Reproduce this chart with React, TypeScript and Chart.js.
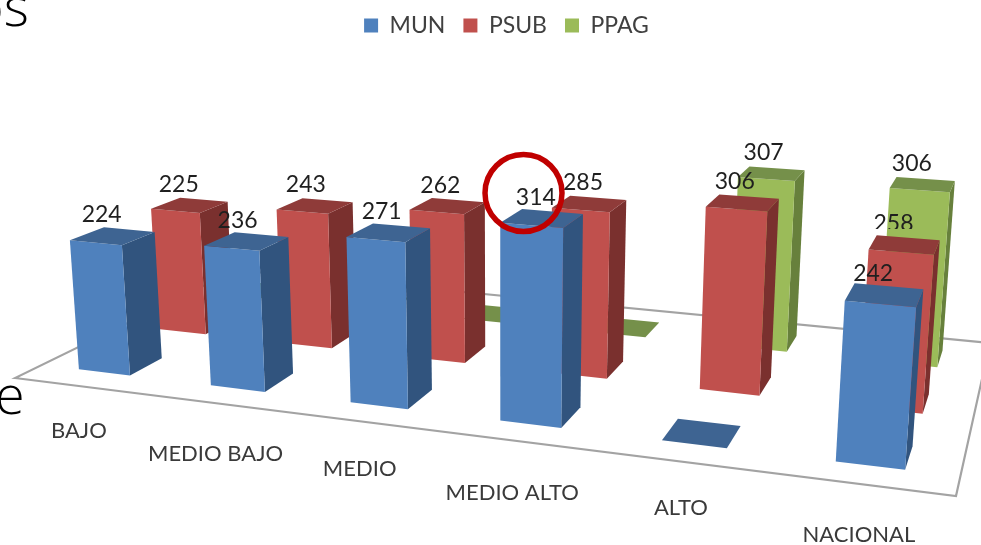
import React, { useEffect, useRef } from "react";
import { Chart, BarController, BarElement, CategoryScale, LinearScale, Legend } from "chart.js";

const categories = ["BAJO", "MEDIO BAJO", "MEDIO", "MEDIO ALTO", "ALTO", "NACIONAL"];
const mun = [224, 236, 271, 314, 0, 242];
const psub = [225, 243, 262, 285, 306, 258];
const ppag = [0, 0, 0, 0, 307, 306];

const FRONT = ["#4F81BD", "#C0504D", "#9BBB59"];
const TOP = ["#3E6492", "#8F3B39", "#75904A"];
const SIDE = ["#31547E", "#7A302E", "#67803C"];
const FONT = "Lato, Carlito, 'Open Sans', sans-serif";

// Floor quad of the 3D view (front-left, front-right, back-right, back-left) and vertical vanishing point
const A = [15, 378], B = [956, 496], C = [990, 343], D = [236, 270];
const VP = [502, 6412];
const RISE = 0.0332;
const DEPTH_FILL = 0.4;
const WIDTH_FILL = 0.39;
const LABEL_SHIFT_U = -0.0035;
// Small per-category corrections of the projected bars (floor units) and the category labels (px)
const BAR_NUDGE_U = [-0.003, -0.0045, -0.006, -0.006, -0.0035, 0.0003];
const LABEL_NUDGE = [[1, -2], [0, 3], [-2, -1], [-5, 3], [-2, -3], [-1, 1]];
// The one data label cut by the bar in front of it
const LABEL_CLIP_Y: Record<string, number> = { "1:258": 229 };

const den = (B[0] - C[0]) * (D[1] - C[1]) - (D[0] - C[0]) * (B[1] - C[1]);
const sx = A[0] - B[0] + C[0] - D[0];
const sy = A[1] - B[1] + C[1] - D[1];
const g = (sx * (D[1] - C[1]) - (D[0] - C[0]) * sy) / den;
const h = ((B[0] - C[0]) * sy - sx * (B[1] - C[1])) / den;
const a = B[0] - A[0] + g * B[0], b = D[0] - A[0] + h * D[0];
const d = B[1] - A[1] + g * B[1], e = D[1] - A[1] + h * D[1];

function project(u: number, v: number, t: number): [number, number] {
  const w = g * u + h * v + 1 - t;
  return [(a * u + b * v + A[0] - t * VP[0]) / w, (d * u + e * v + A[1] - t * VP[1]) / w];
}

function poly(ctx: CanvasRenderingContext2D, pts: [number, number][], fill: string) {
  ctx.beginPath();
  pts.forEach((p, i) => (i ? ctx.lineTo(p[0], p[1]) : ctx.moveTo(p[0], p[1])));
  ctx.closePath();
  ctx.fillStyle = fill;
  ctx.fill();
}

class Bar3D extends BarElement {
  static id = "bar3d";
  draw(ctx: CanvasRenderingContext2D) {
    const self = this as any;
    const area = self.area;
    if (!area) return;
    const span = area.right - area.left;
    const raw = (self.x - area.left) / span;
    const u = raw + BAR_NUDGE_U[self.category];
    const du = self.width / span / 2;
    const series = self.series as number;
    const v = (series + 0.5) / 3;
    const dv = DEPTH_FILL / 3 / 2;
    const t = (RISE * (self.base - self.y)) / (area.bottom - area.top);
    const u0 = u - du, u1 = u + du, v0 = v - dv, v1 = v + dv;
    ctx.save();
    if (self.value) {
      const c = project(raw + LABEL_SHIFT_U, v, t);
      ctx.save();
      const clipY = LABEL_CLIP_Y[`${series}:${self.value}`];
      if (clipY) {
        ctx.beginPath();
        ctx.rect(0, 0, 981, clipY);
        ctx.clip();
      }
      ctx.font = `23px ${FONT}`;
      ctx.fillStyle = "#1F1F1F";
      ctx.textAlign = "center";
      ctx.textBaseline = "middle";
      ctx.fillText(String(self.value), c[0] - 11 + 4 * raw, c[1] - 21);
      ctx.restore();
      poly(ctx, [project(u1, v0, 0), project(u1, v1, 0), project(u1, v1, t), project(u1, v0, t)], SIDE[series]);
      poly(ctx, [project(u0, v0, 0), project(u1, v0, 0), project(u1, v0, t), project(u0, v0, t)], FRONT[series]);
    }
    poly(ctx, [project(u0, v0, t), project(u1, v0, t), project(u1, v1, t), project(u0, v1, t)], TOP[series]);
    ctx.restore();
  }
}

class Bar3DController extends BarController {
  static id = "bar3d";
  static defaults = { ...(BarController as any).defaults, dataElementType: "bar3d" };
  static overrides = (BarController as any).overrides;
  updateElements(bars: any[], start: number, count: number, mode: any) {
    (BarController.prototype as any).updateElements.call(this, bars, start, count, mode);
    const data = (this as any).getDataset().data;
    for (let i = start; i < start + count; i++) {
      bars[i].area = (this as any).chart.chartArea;
      bars[i].series = (this as any).index;
      bars[i].category = i;
      bars[i].value = data[i];
    }
  }
}

Chart.register(Bar3DController as any, Bar3D as any, CategoryScale, LinearScale, Legend);

const floorPlugin = {
  id: "floor",
  beforeDatasetsDraw(chart: any) {
    const ctx = chart.ctx;
    ctx.save();
    ctx.beginPath();
    [project(0, 0, 0), project(1, 0, 0), project(1, 1, 0), project(0, 1, 0)].forEach((p, i) =>
      i ? ctx.lineTo(p[0], p[1]) : ctx.moveTo(p[0], p[1])
    );
    ctx.closePath();
    ctx.strokeStyle = "#A3A3A3";
    ctx.lineWidth = 2.2;
    ctx.stroke();
    ctx.restore();
  },
};

const axisLabelPlugin = {
  id: "axisLabels",
  afterDatasetsDraw(chart: any) {
    const ctx = chart.ctx;
    const xs = chart.scales.x;
    const area = chart.chartArea;
    ctx.save();
    ctx.font = `22px ${FONT}`;
    ctx.fillStyle = "#3A3A3A";
    ctx.textAlign = "center";
    ctx.textBaseline = "middle";
    chart.data.labels.forEach((label: string, i: number) => {
      const u = (xs.getPixelForValue(i) - area.left) / (area.right - area.left);
      const p = project(u, 0, 0);
      ctx.fillText(label, p[0] - 3 + LABEL_NUDGE[i][0], p[1] + 46 + 4 * u + LABEL_NUDGE[i][1]);
    });
    ctx.restore();
  },
};

const circlePlugin = {
  id: "circle",
  afterDraw(chart: any) {
    const ctx = chart.ctx;
    ctx.save();
    ctx.beginPath();
    ctx.arc(523.5, 193, 38.5, 0, Math.PI * 2);
    ctx.strokeStyle = "#C00000";
    ctx.lineWidth = 5.5;
    ctx.stroke();
    ctx.restore();
  },
};

export default function App() {
  const ref = useRef<HTMLCanvasElement>(null);
  useEffect(() => {
    document.body.style.margin = "0";
    const chart = new Chart(ref.current as HTMLCanvasElement, {
      type: "bar3d" as any,
      data: {
        labels: categories,
        datasets: [
          { label: "MUN", data: mun, backgroundColor: FRONT[0] },
          { label: "PSUB", data: psub, backgroundColor: FRONT[1] },
          { label: "PPAG", data: ppag, backgroundColor: FRONT[2] },
        ] as any,
      },
      options: {
        responsive: false,
        animation: false,
        layout: { padding: { left: 32, top: -4 } },
        datasets: { bar3d: { grouped: false, categoryPercentage: 1, barPercentage: WIDTH_FILL, clip: false, borderWidth: 0 } },
        scales: {
          x: { type: "category", display: false, offset: true },
          y: { type: "linear", display: false, min: 0, max: 350 },
        },
        plugins: {
          legend: {
            display: true,
            position: "top",
            labels: { boxWidth: 14, boxHeight: 14, padding: 18, color: "#404040", font: { family: FONT, size: 23 } },
          },
          tooltip: { enabled: false },
        },
      } as any,
      plugins: [floorPlugin, axisLabelPlugin, circlePlugin] as any,
    });
    return () => chart.destroy();
  }, []);
  const big: React.CSSProperties = {
    position: "absolute",
    fontFamily: "'Open Sans', sans-serif",
    fontWeight: 300,
    color: "#000",
    lineHeight: 1,
    whiteSpace: "nowrap",
  };
  return (
    <div style={{ position: "relative", width: 981, height: 545, overflow: "hidden", background: "#fff" }}>
      <div style={{ ...big, fontSize: 54, left: -28, top: -22 }}>os</div>
      <div style={{ ...big, fontSize: 54, left: -5, top: 366 }}>e</div>
      <canvas ref={ref} width={981} height={545} style={{ display: "block", position: "relative", width: 981, height: 545, filter: "blur(0.5px)" }} />
    </div>
  );
}
